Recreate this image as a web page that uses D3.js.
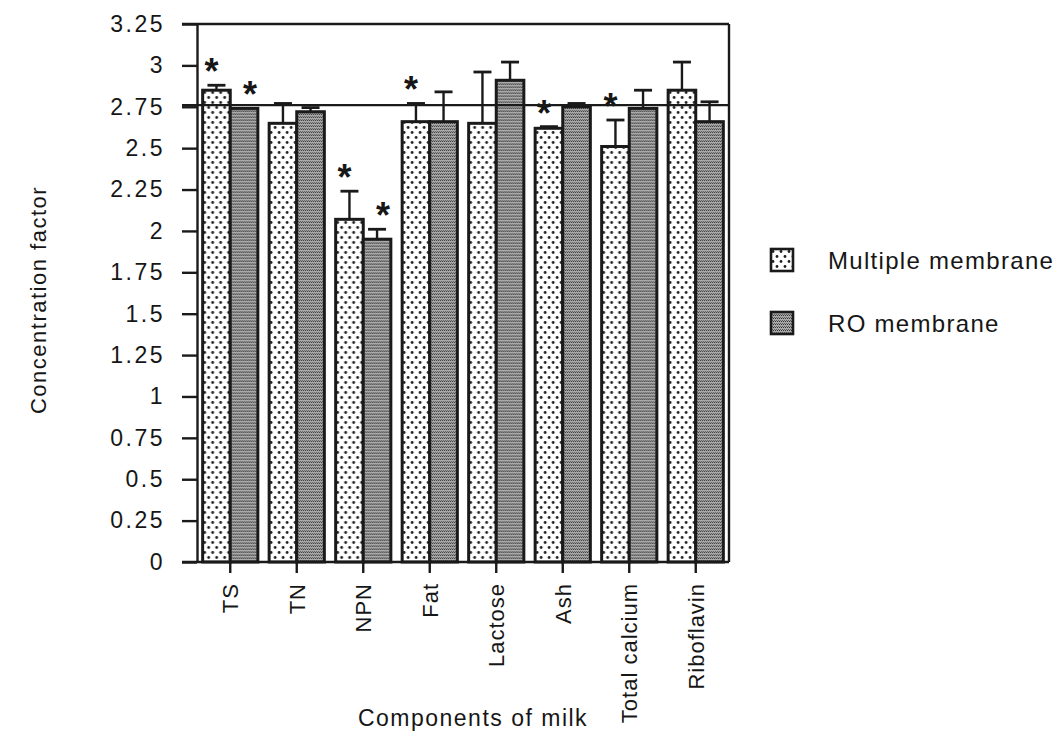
<!DOCTYPE html>
<html>
<head>
<meta charset="utf-8">
<script src="https://cdn.jsdelivr.net/npm/d3@7"></script>
<style>
	body { margin: 0; background: #fff; }
	text { font-family: "Liberation Sans", Arial, Helvetica, sans-serif; fill: #161616; }
</style>
</head>
<body>
<div id="chart"></div>
<script>
'use strict';

/*****************************Chart data**********************************/

var categories = ["TS", "TN", "NPN", "Fat", "Lactose", "Ash", "Total calcium", "Riboflavin"];
var seriesNames = ["Multiple membrane", "RO membrane"];

var multipleValues = [2.85, 2.65, 2.07, 2.66, 2.65, 2.62, 2.51, 2.85];
var multipleErrors = [0.03, 0.12, 0.17, 0.11, 0.31, 0.01, 0.16, 0.17];
var multipleStars = [true, false, true, true, false, true, true, false];

var roValues = [2.74, 2.72, 1.95, 2.66, 2.91, 2.75, 2.74, 2.66];
var roErrors = [0.0, 0.025, 0.06, 0.18, 0.11, 0.02, 0.11, 0.12];
var roStars = [true, false, true, false, false, false, false, false];

var yTicks = [0, 0.25, 0.5, 0.75, 1, 1.25, 1.5, 1.75, 2, 2.25, 2.5, 2.75, 3, 3.25];
var referenceLevel = 2.76;

/***************************Chart dimensions******************************/

var width = 1060;
var height = 733;
var plotLeft = 197;
var plotRight = 729;
var plotTop = 24;
var plotBottom = 562;

var svg = d3.select("#chart").append("svg")
	.attr("width", width)
	.attr("height", height);

/*****************************Fill patterns*******************************/

var defs = svg.append("defs");

var dotPattern = defs.append("pattern")
	.attr("id", "dotFill")
	.attr("patternUnits", "userSpaceOnUse")
	.attr("width", 8)
	.attr("height", 10);
dotPattern.append("rect").attr("width", 8).attr("height", 10).attr("fill", "#fff");
dotPattern.append("circle").attr("cx", 2).attr("cy", 2.5).attr("r", 1.4).attr("fill", "#1e1e1e");
dotPattern.append("circle").attr("cx", 6).attr("cy", 7.5).attr("r", 1.4).attr("fill", "#1e1e1e");

var greyPattern = defs.append("pattern")
	.attr("id", "greyFill")
	.attr("patternUnits", "userSpaceOnUse")
	.attr("width", 2)
	.attr("height", 3);
greyPattern.append("rect").attr("width", 2).attr("height", 3).attr("fill", "#a9a9a9");
greyPattern.append("rect").attr("width", 1).attr("height", 1).attr("fill", "#333");
greyPattern.append("rect").attr("x", 1).attr("y", 2).attr("width", 1).attr("height", 1).attr("fill", "#5e5e5e");

var fills = ["url(#dotFill)", "url(#greyFill)"];
// the asterisks sit a little off the bar centre, outwards
var starShift = [-5, 6];

/********************************Scales***********************************/

var x0 = d3.scaleBand()
	.domain(categories)
	.range([plotLeft, plotRight])
	.paddingInner(0.17)
	.paddingOuter(0.085);

var x1 = d3.scaleBand()
	.domain(seriesNames)
	.range([0, x0.bandwidth()]);

var y = d3.scaleLinear()
	.domain([0, 3.25])
	.range([plotBottom, plotTop]);

/*****************************Bars and errors*****************************/

var rows = categories.map(function(c, i) {
	return [
		{cat: c, series: seriesNames[0], value: multipleValues[i], err: multipleErrors[i], star: multipleStars[i], k: 0},
		{cat: c, series: seriesNames[1], value: roValues[i], err: roErrors[i], star: roStars[i], k: 1}
	];
});

var groups = svg.append("g").selectAll("g")
	.data(rows)
	.join("g")
	.attr("transform", function(d) { return "translate(" + x0(d[0].cat) + ",0)"; });

var items = groups.selectAll("g")
	.data(function(d) { return d; })
	.join("g");

items.filter(function(d) { return d.err > 0; })
	.append("line")
	.attr("x1", function(d) { return x1(d.series) + x1.bandwidth() / 2; })
	.attr("x2", function(d) { return x1(d.series) + x1.bandwidth() / 2; })
	.attr("y1", function(d) { return y(d.value); })
	.attr("y2", function(d) { return y(d.value + d.err); })
	.attr("stroke", "#1a1a1a")
	.attr("stroke-width", 2.4);

items.filter(function(d) { return d.err > 0; })
	.append("line")
	.attr("x1", function(d) { return x1(d.series) + x1.bandwidth() / 2 - 9; })
	.attr("x2", function(d) { return x1(d.series) + x1.bandwidth() / 2 + 9; })
	.attr("y1", function(d) { return y(d.value + d.err); })
	.attr("y2", function(d) { return y(d.value + d.err); })
	.attr("stroke", "#1a1a1a")
	.attr("stroke-width", 2.8);

items.append("rect")
	.attr("x", function(d) { return x1(d.series); })
	.attr("y", function(d) { return y(d.value); })
	.attr("width", x1.bandwidth())
	.attr("height", function(d) { return y(0) - y(d.value); })
	.attr("fill", function(d) { return fills[d.k]; })
	.attr("stroke", "#1a1a1a")
	.attr("stroke-width", 3);

items.filter(function(d) { return d.star; })
	.append("text")
	.attr("x", function(d) { return x1(d.series) + x1.bandwidth() / 2 + starShift[d.k]; })
	.attr("y", function(d) { return y(d.value + d.err) - 1; })
	.attr("text-anchor", "middle")
	.style("font-size", "36px")
	.style("font-weight", "bold")
	.text("*");

/*******************************Axes**************************************/

var yAxis = svg.append("g")
	.attr("transform", "translate(" + plotLeft + ",0)")
	.call(d3.axisLeft(y).tickValues(yTicks).tickFormat(function(d) { return String(d); })
		.tickSize(15).tickSizeOuter(0).tickPadding(17));
yAxis.selectAll("text").style("font-size", "23px").style("letter-spacing", "2.5px");

var xAxis = svg.append("g")
	.attr("transform", "translate(0," + plotBottom + ")")
	.call(d3.axisBottom(x0).tickSize(11).tickSizeOuter(0).tickFormat(function(d) { return d; }));
xAxis.select(".domain").remove();
xAxis.selectAll("text")
	.attr("transform", "rotate(-90)")
	.attr("x", -21)
	.attr("y", 0)
	.attr("dy", "0.36em")
	.attr("text-anchor", "end")
	.style("font-size", "22px")
	.style("letter-spacing", "1px");

svg.selectAll(".tick line, .domain").attr("stroke", "#1a1a1a").attr("stroke-width", 2.4);

/***************************Frame and reference line**********************/

var frame = svg.append("g").attr("stroke", "#1a1a1a").attr("stroke-width", 2.4);
frame.append("line").attr("x1", plotLeft - 15).attr("x2", plotRight).attr("y1", y(0)).attr("y2", y(0));
frame.append("line").attr("x1", plotLeft - 15).attr("x2", plotRight).attr("y1", y(3.25)).attr("y2", y(3.25));
frame.append("line").attr("x1", plotRight).attr("x2", plotRight).attr("y1", y(3.25)).attr("y2", y(0));
frame.append("line").attr("x1", plotLeft - 15).attr("x2", plotRight).attr("y1", y(referenceLevel)).attr("y2", y(referenceLevel));

/*******************************Titles************************************/

svg.append("text")
	.attr("x", 473)
	.attr("y", 726)
	.attr("text-anchor", "middle")
	.style("font-size", "23px")
	.style("letter-spacing", "1.5px")
	.text("Components of milk");

svg.append("text")
	.attr("transform", "translate(46,300) rotate(-90)")
	.attr("text-anchor", "middle")
	.style("font-size", "22px")
	.style("letter-spacing", "1.5px")
	.text("Concentration factor");

/*******************************Legend************************************/

var legend = svg.append("g").selectAll("g")
	.data(seriesNames)
	.join("g")
	.attr("transform", function(d, i) { return "translate(771," + (249 + i * 63) + ")"; });

legend.append("rect")
	.attr("width", 22)
	.attr("height", 22)
	.attr("fill", function(d, i) { return fills[i]; })
	.attr("stroke", "#1a1a1a")
	.attr("stroke-width", 2.6);

legend.append("text")
	.attr("x", 57)
	.attr("y", 20)
	.style("font-size", "24px")
	.style("letter-spacing", "1.3px")
	.text(function(d) { return d; });
</script>
</body>
</html>
